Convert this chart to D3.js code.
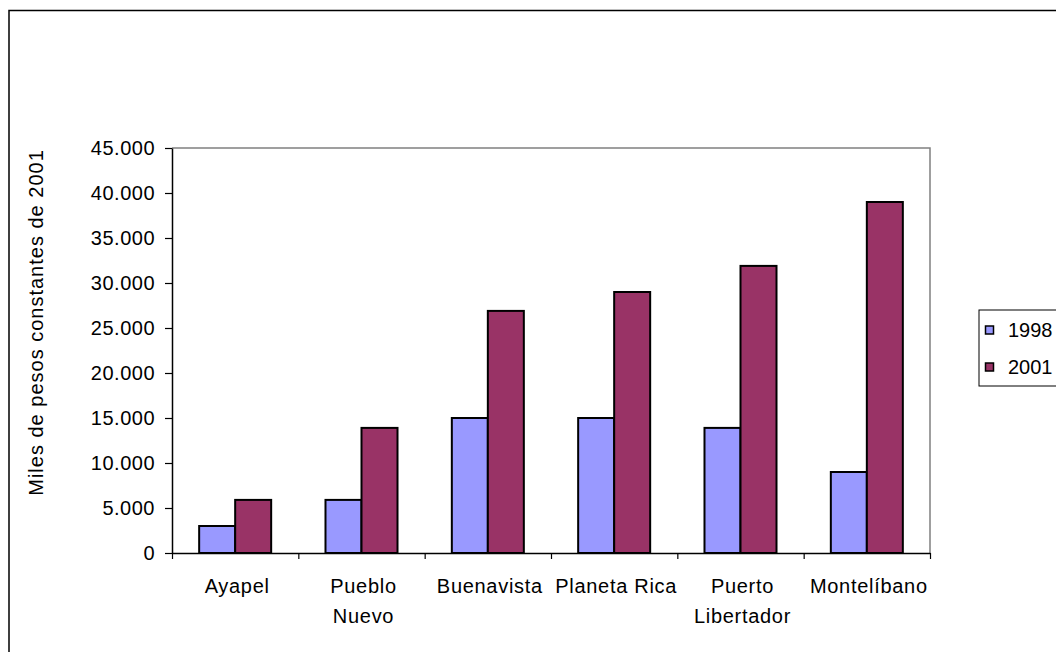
<!DOCTYPE html>
<html>
<head>
<meta charset="utf-8">
<script src="https://cdn.jsdelivr.net/npm/d3@7"></script>
<style>
  html, body { margin: 0; padding: 0; background: #fff; }
  svg { display: block; font-family: "Liberation Sans", Arial, sans-serif; }
</style>
</head>
<body>
<svg id="chart" width="1056" height="652"></svg>
<script>
const categories = ["Ayapel", "Pueblo Nuevo", "Buenavista", "Planeta Rica", "Puerto Libertador", "Montelíbano"];
const categoryLines = [["Ayapel"], ["Pueblo", "Nuevo"], ["Buenavista"], ["Planeta Rica"], ["Puerto", "Libertador"], ["Montelíbano"]];
const seriesNames = ["1998", "2001"];
const values1998 = [3000, 5900, 15000, 15000, 13900, 9000];
const values2001 = [5900, 13900, 26900, 29000, 31900, 39000];
const yTicks = [0, 5000, 10000, 15000, 20000, 25000, 30000, 35000, 40000, 45000];
const colors = ["#9999FF", "#993366"];
const yTitle = "Miles de pesos constantes de 2001";

const svg = d3.select("#chart");
const L = 172, R = 930, T = 148, B = 553;

// outer frame
svg.append("rect").attr("x", 9).attr("y", 10.5).attr("width", 1200).attr("height", 800)
  .attr("fill", "none").attr("stroke", "#000").attr("stroke-width", 1.5);

const x = d3.scaleBand().domain(categories).range([L, R]).paddingInner(0.43).paddingOuter(0.215);
const xs = d3.scaleBand().domain(seriesNames).range([0, x.bandwidth()]);
const y = d3.scaleLinear().domain([0, 45000]).range([B, T]);
const xi = d3.scaleLinear().domain([0, categories.length]).range([L, R]);

const loc = d3.formatLocale({decimal: ",", thousands: ".", grouping: [3], currency: ["$", ""]});
const fmt = loc.format(",d");

// plot border top & right (grey)
svg.append("path").attr("d", `M${L},${T}H${R}V${B}`).attr("fill", "none")
  .attr("stroke", "#808080").attr("stroke-width", 1.5);

// bars
const rows = categories.map((c, i) => ({c, vals: [values1998[i], values2001[i]]}));
const g = svg.append("g");
rows.forEach(r => {
  r.vals.forEach((v, j) => {
    g.append("rect")
      .attr("x", x(r.c) + xs(seriesNames[j]))
      .attr("y", y(v))
      .attr("width", xs.bandwidth())
      .attr("height", y(0) - y(v))
      .attr("fill", colors[j])
      .attr("stroke", "#000")
      .attr("stroke-width", 2);
  });
});

// y axis
const yAxis = svg.append("g").attr("transform", `translate(${L},0)`)
  .call(d3.axisLeft(y).tickValues(yTicks).tickFormat(fmt).tickSize(7).tickPadding(10).tickSizeOuter(0));
yAxis.select(".domain").attr("stroke", "#000").attr("stroke-width", 1.5);
yAxis.selectAll(".tick line").attr("stroke", "#000").attr("stroke-width", 1.2);
yAxis.selectAll(".tick text").attr("font-size", 20).attr("fill", "#000")
  .attr("font-family", "Liberation Sans, Arial, sans-serif").attr("letter-spacing", 0.5);

// x axis (ticks at category boundaries)
const xAxis = svg.append("g").attr("transform", `translate(0,${B})`)
  .call(d3.axisBottom(xi).tickValues(d3.range(categories.length + 1)).tickFormat("").tickSize(6).tickSizeOuter(0));
xAxis.select(".domain").attr("stroke", "#000").attr("stroke-width", 1.5);
xAxis.selectAll(".tick line").attr("stroke", "#000").attr("stroke-width", 1.2);

// x labels
categories.forEach((c, i) => {
  const t = svg.append("text").attr("x", x(c) + x.bandwidth() / 2 + 2).attr("y", 593)
    .attr("text-anchor", "middle").attr("font-size", 20).attr("letter-spacing", 0.7).attr("fill", "#000");
  categoryLines[i].forEach((ln, k) => {
    t.append("tspan").attr("x", x(c) + x.bandwidth() / 2 + 2).attr("dy", k === 0 ? 0 : 30).text(ln);
  });
});

// y title
svg.append("text").attr("transform", "translate(43,322.5) rotate(-90)")
  .attr("text-anchor", "middle").attr("font-size", 20).attr("letter-spacing", 1).attr("fill", "#000")
  .text(yTitle);

// legend
svg.append("rect").attr("x", 979).attr("y", 310).attr("width", 120).attr("height", 76)
  .attr("fill", "#fff").attr("stroke", "#000").attr("stroke-width", 1);
seriesNames.forEach((s, j) => {
  const yy = 337 + j * 37;
  svg.append("rect").attr("x", 985.5).attr("y", yy - 11).attr("width", 8).attr("height", 8)
    .attr("fill", colors[j]).attr("stroke", "#000").attr("stroke-width", 1.5);
  svg.append("text").attr("x", 1008).attr("y", yy).attr("font-size", 20).attr("fill", "#000").text(s);
});
</script>
</body>
</html>
